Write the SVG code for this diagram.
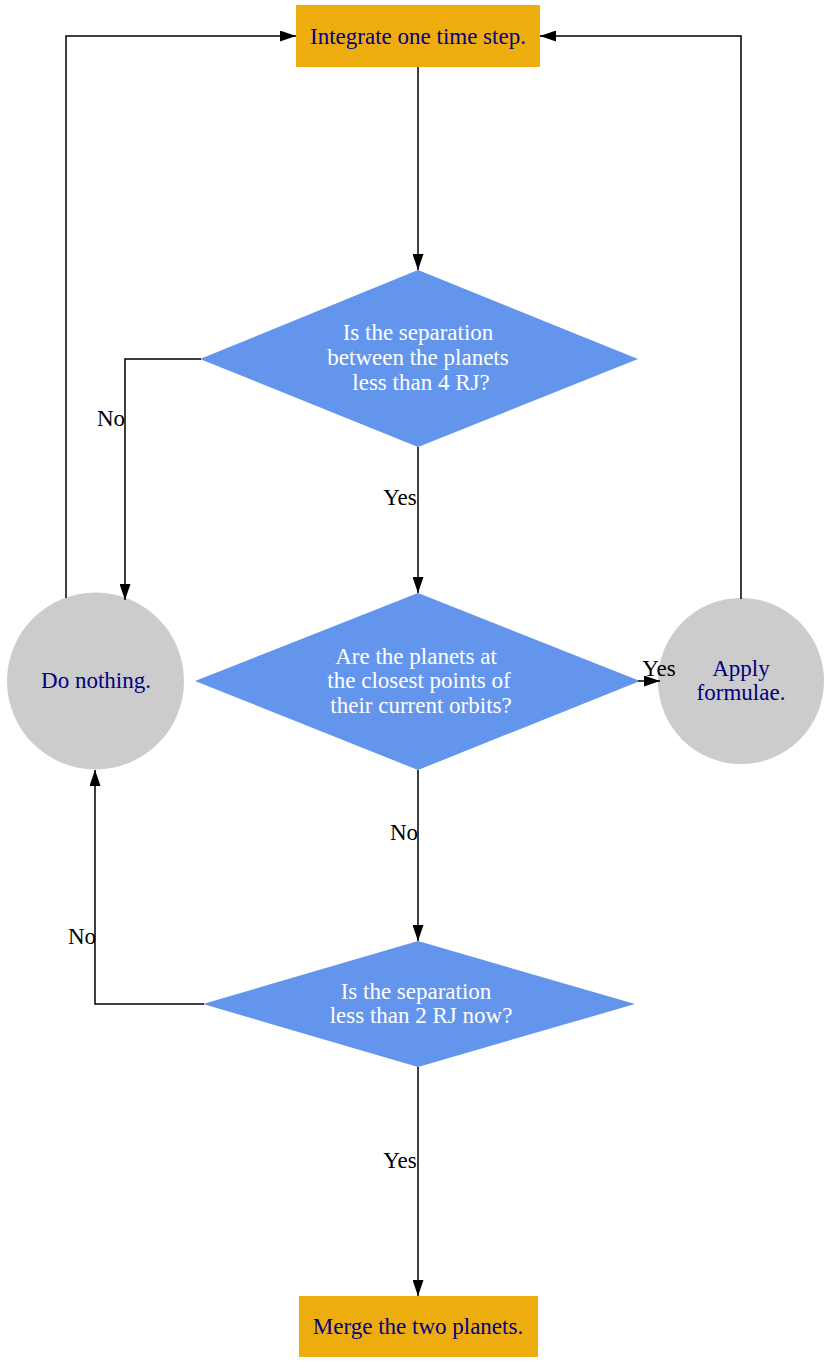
<svg xmlns="http://www.w3.org/2000/svg" width="830" height="1363" viewBox="0 0 830 1363">
<style>
text{font-family:"Liberation Serif","Times New Roman",serif;font-size:23px;text-anchor:middle}
.box{fill:#eead0e}
.dia{fill:#6495ed}
.circ{fill:#cccccc}
.nt{fill:#000080}
.dt{fill:#ffffff}
.lbl{fill:#000000}
.e{fill:none;stroke:#000;stroke-width:1.5}
</style>
<defs>
<marker id="ah" markerWidth="16" markerHeight="11" refX="16" refY="5.5" orient="auto" markerUnits="userSpaceOnUse">
<path d="M0,0 L16,5.5 L0,11 z" fill="#000"/>
</marker>
</defs>
<rect width="830" height="1363" fill="#fff"/>
<g id="integrate">
<rect class="box" x="296" y="5" width="244" height="62"/>
<text class="nt" x="418" y="44">Integrate one time step.</text>
</g>
<g id="check4rj">
<polygon class="dia" points="418,270 638,359 418,447 200,359"/>
<text class="dt" x="418" y="340">Is the separation</text>
<text class="dt" x="418" y="365">between the planets</text>
<text class="dt" x="421" y="390">less than 4 RJ?</text>
</g>
<g id="checkclosest">
<polygon class="dia" points="418,593 640,681 418,770 195,681"/>
<text class="dt" x="416" y="664">Are the planets at</text>
<text class="dt" x="419" y="688">the closest points of</text>
<text class="dt" x="421" y="713">their current orbits?</text>
</g>
<g id="check2rj">
<polygon class="dia" points="418,941 635,1004 418,1067 203,1004"/>
<text class="dt" x="416" y="999">Is the separation</text>
<text class="dt" x="421" y="1023">less than 2 RJ now?</text>
</g>
<g id="donothing">
<circle class="circ" cx="95.5" cy="681" r="88.5"/>
<text class="nt" x="96" y="688">Do nothing.</text>
</g>
<g id="apply">
<circle class="circ" cx="741" cy="681" r="83"/>
<text class="nt" x="741" y="676">Apply</text>
<text class="nt" x="741" y="700">formulae.</text>
</g>
<g id="merge">
<rect class="box" x="299" y="1296" width="239" height="61"/>
<text class="nt" x="418" y="1334">Merge the two planets.</text>
</g>
<g id="connectors">
<path class="e" d="M418,67 L418,270" marker-end="url(#ah)"/>
<path class="e" d="M418,447 L418,593" marker-end="url(#ah)"/>
<text class="lbl" x="400" y="505">Yes</text>
<path class="e" d="M201,359 L125,359 L125,600" marker-end="url(#ah)"/>
<text class="lbl" x="111" y="426">No</text>
<path class="e" d="M638,681 L660,681" marker-end="url(#ah)"/>
<text class="lbl" x="659" y="676">Yes</text>
<path class="e" d="M418,770 L418,941" marker-end="url(#ah)"/>
<text class="lbl" x="404" y="840">No</text>
<path class="e" d="M204,1004 L95,1004 L95,770" marker-end="url(#ah)"/>
<text class="lbl" x="82" y="944">No</text>
<path class="e" d="M418,1067 L418,1296" marker-end="url(#ah)"/>
<text class="lbl" x="400" y="1168">Yes</text>
<path class="e" d="M66,598 L66,36 L296,36" marker-end="url(#ah)"/>
<path class="e" d="M741,599 L741,36 L540,36" marker-end="url(#ah)"/>
</g>
</svg>
